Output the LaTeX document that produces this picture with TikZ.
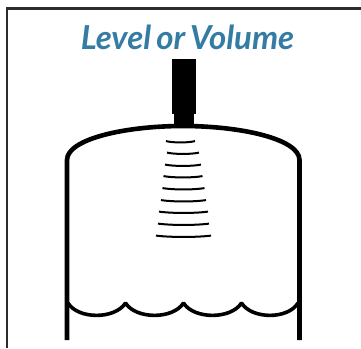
\documentclass[tikz,border=0pt]{standalone}
\usepackage{fontspec}
\setmainfont{Lato}
\definecolor{titleblue}{RGB}{52,124,163}
\definecolor{framegray}{RGB}{45,45,45}
\tikzset{
  wall/.style={line width=4.6pt,black},
  wave/.style={line width=2pt,black},
  frameline/.style={line width=2.6pt,framegray},
  ripple/.style={line width=3.6pt,black,line join=bevel},
}
\begin{document}
\begin{tikzpicture}[x=1pt,y=-1pt]
\useasboundingbox (0,0) rectangle (361,348);
\draw[frameline] (7,348) -- (7,8.5) -- (361,8.5);
\node[text=titleblue,font=\bfseries\itshape\fontsize{33}{33}\selectfont,anchor=base,inner sep=0pt] (title) at (187.5,49.5) {Level\hspace{-0.06em} or\hspace{-0.08em} Volume};
\fill[black] (172,59) rectangle (195.5,114);
\fill[black] (173.5,114) rectangle (193.5,126);
\draw[wall] (67,340) -- (67,160) .. controls (67,139) and (125,126) .. (183,126) .. controls (241,126) and (299.5,139) .. (299.5,160) -- (299.5,340);
\foreach \xx/\yy/\w in {180.5/142/14.5,183/153.5/16,183/165.5/18,183/177/19.5,183.5/189/21,183.5/201/22.5,183.5/212.5/24.5,183.5/224.5/25.5,183.5/236.5/27.5}
  \draw[wave] (\xx-\w,\yy-0.9) .. controls (\xx-\w/2,\yy+0.9) and (\xx+\w/2,\yy+0.9) .. (\xx+\w,\yy-0.9);
\draw[ripple] (68,303) .. controls (78,319.5) and (115,319.5) .. (125.5,303) .. controls (136,319.5) and (173,319.5) .. (183.5,303) .. controls (194,319.5) and (231,319.5) .. (241.5,303) .. controls (252,319.5) and (288,319.5) .. (298,303);
\end{tikzpicture}
\end{document}
